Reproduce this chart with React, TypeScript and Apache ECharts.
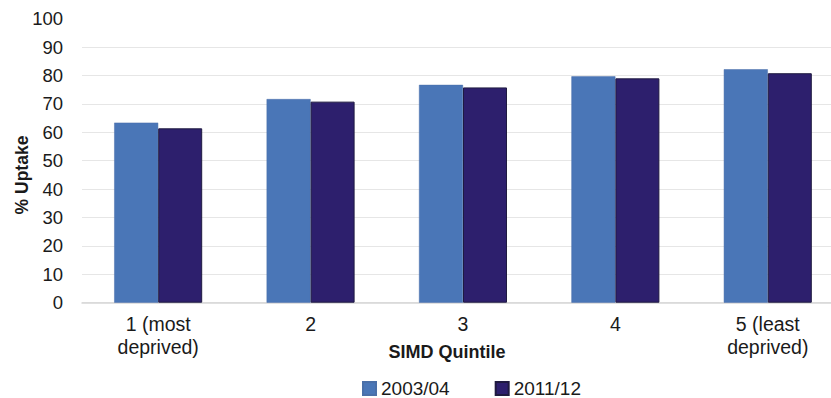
import React, { useEffect, useRef } from "react";
import * as echarts from "echarts";

const categories = ["1 (most\ndeprived)", "2", "3", "4", "5 (least\ndeprived)"];
const series2003 = [63.4, 71.7, 76.7, 79.7, 82.2];
const series2011 = [61.4, 70.8, 75.8, 79.0, 80.8];
const seriesNames = ["2003/04", "2011/12"];

const FONT = "'Liberation Sans', Arial, sans-serif";

export default function App() {
  const ref = useRef<HTMLDivElement>(null);
  useEffect(() => {
    if (!ref.current) return;
    const chart = echarts.init(ref.current, undefined, { renderer: "svg" });
    chart.setOption({
      animation: false,
      backgroundColor: "#ffffff",
      grid: { left: 82, top: 18.7, width: 762, height: 284, containLabel: false },
      xAxis: {
        type: "category",
        data: categories,
        axisLine: { show: true, lineStyle: { color: "#d6d6d6", width: 1.5 } },
        axisTick: { show: false },
        axisLabel: {
          color: "#1a1a1a",
          fontSize: 19.5,
          fontFamily: FONT,
          lineHeight: 23,
          margin: 10,
          interval: 0,
        },
      },
      yAxis: {
        type: "value",
        min: 0,
        max: 100,
        interval: 10,
        axisLine: { show: false },
        axisTick: { show: false },
        axisLabel: {
          color: "#1a1a1a",
          fontSize: 18.5,
          fontFamily: FONT,
          margin: 19,
        },
        splitLine: {
          show: true,
          showMaxLine: false,
          lineStyle: { color: "#e6e6e6", width: 1 },
        },
      },
      legend: {
        left: 357,
        top: 374,
        itemWidth: 13,
        itemHeight: 13,
        itemGap: 45,
        icon: "rect",
        textStyle: { fontSize: 19, color: "#1a1a1a", fontFamily: FONT },
        data: seriesNames,
      },
      graphic: [
        {
          type: "text",
          x: 22,
          y: 175,
          rotation: Math.PI / 2,
          style: {
            text: "% Uptake",
            fontSize: 17.5,
            fontWeight: "bold",
            fontFamily: FONT,
            fill: "#1a1a1a",
            align: "center",
            verticalAlign: "middle",
          },
        },
        {
          type: "text",
          x: 447,
          y: 352,
          style: {
            text: "SIMD Quintile",
            fontSize: 18,
            fontWeight: "bold",
            fontFamily: FONT,
            fill: "#1a1a1a",
            align: "center",
            verticalAlign: "middle",
          },
        },
      ],
      series: [
        {
          name: seriesNames[0],
          type: "bar",
          data: series2003,
          barWidth: 44,
          barGap: "0%",
          itemStyle: { color: "#4a76b7", borderColor: "#4a6fa8", borderWidth: 0.5 },
        },
        {
          name: seriesNames[1],
          type: "bar",
          data: series2011,
          barWidth: 44,
          barGap: "0%",
          itemStyle: { color: "#2d1f6d", borderColor: "#1f1a40", borderWidth: 1 },
        },
      ],
    });
    return () => chart.dispose();
  }, []);
  return (
    <div style={{ position: "absolute", left: 0, top: 0, width: 831, height: 398, overflow: "hidden" }}>
      <div ref={ref} style={{ width: 850, height: 398 }} />
    </div>
  );
}
